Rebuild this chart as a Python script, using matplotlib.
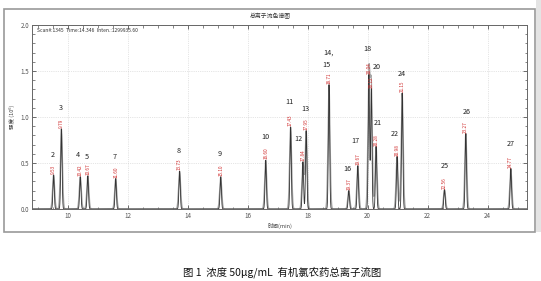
import numpy as np
import matplotlib
matplotlib.use("Agg")
import matplotlib.pyplot as plt
from matplotlib.patches import Rectangle
from matplotlib.ticker import MultipleLocator

plt.rcParams['font.family'] = ['Noto Sans CJK SC', 'DejaVu Sans']

# peak retention times (min) and heights (x10^6)
rts = [9.53, 9.79, 10.42, 10.67, 11.60, 13.73, 15.10, 16.60, 17.43, 17.84, 17.95,
       18.71, 19.37, 19.67, 20.04, 20.12, 20.28, 20.98, 21.15, 22.56, 23.27, 24.77]
heights = [0.37, 0.87, 0.35, 0.36, 0.33, 0.41, 0.35, 0.53, 0.89, 0.51, 0.85,
           1.35, 0.20, 0.47, 1.46, 1.31, 0.68, 0.57, 1.26, 0.21, 0.82, 0.44]
rt_labels = ["9.53", "9.79", "10.42", "10.67", "11.60", "13.73", "15.10", "16.60",
             "17.43", "17.84", "17.95", "18.71", "19.37", "19.67", "20.04", "20.12",
             "20.28", "20.98", "21.15", "22.56", "23.27", "24.77"]

# compound numbers and where they are written
num_labels = ["2", "3", "4", "5", "7", "8", "9", "10", "11", "12", "13", "14,", "15",
              "16", "17", "18", "20", "21", "22", "24", "25", "26", "27"]
num_x = [9.50, 9.77, 10.33, 10.63, 11.57, 13.69, 15.08, 16.60, 17.39, 17.69, 17.91,
         18.69, 18.63, 19.32, 19.60, 20.00, 20.30, 20.33, 20.91, 21.13, 22.58, 23.30, 24.77]
num_y = [0.59, 1.10, 0.59, 0.57, 0.57, 0.63, 0.60, 0.78, 1.16, 0.76, 1.09,
         1.70, 1.56, 0.43, 0.74, 1.74, 1.54, 0.93, 0.82, 1.47, 0.47, 1.05, 0.71]

fig = plt.figure(figsize=(5.41, 2.81), dpi=100)

# outer frame of the software window
fig.patches.append(Rectangle((4 / 541, 1 - 232 / 281), 531 / 541, 223 / 281,
                             transform=fig.transFigure, fill=False,
                             edgecolor='#999999', lw=1.2))
fig.patches.append(Rectangle((536 / 541, 1 - 232 / 281), 5 / 541, 232 / 281,
                             transform=fig.transFigure, facecolor='#e4e4e4',
                             edgecolor='none'))

ax = fig.add_axes([32 / 541, 1 - 209 / 281, 495 / 541, 184 / 281])

# chromatogram trace
t = np.linspace(8.8, 25.35, 6000)
outer = np.zeros_like(t)
inner = np.zeros_like(t)
for rt, h in zip(rts, heights):
    outer += h * np.exp(-0.5 * ((t - rt) / 0.035) ** 2)
    inner += h * np.exp(-0.5 * ((t - rt) / 0.022) ** 2)
ax.plot(t, outer, color='#a8a8a8', lw=0.9)
ax.plot(t, inner, color='#333333', lw=0.6)

# integration marks at the base
for rt in rts:
    ax.plot([rt - 0.07, rt + 0.07], [0.005, 0.005], color='#e08080', lw=0.8)

# retention time labels
for rt, h, s in zip(rts, heights, rt_labels):
    ax.text(rt, h + 0.01, s, rotation=90, ha='center', va='bottom',
            fontsize=3.4, color='#d03030')

# compound numbers
for s, x, y in zip(num_labels, num_x, num_y):
    ax.text(x, y, s, ha='center', va='center', fontsize=5.2, color='#222222')

ax.set_xlim(8.81, 25.31)
ax.set_ylim(0, 2.0)
ax.xaxis.set_major_locator(MultipleLocator(2))
ax.xaxis.set_minor_locator(MultipleLocator(0.5))
ax.yaxis.set_major_locator(MultipleLocator(0.5))
ax.yaxis.set_minor_locator(MultipleLocator(0.1))
ax.tick_params(which='both', direction='in', top=True, right=True,
               labelsize=4.5, colors='#555555', pad=2)
ax.tick_params(which='major', length=3, width=0.6)
ax.tick_params(which='minor', length=1.8, width=0.5)
ax.grid(True, which='major', linestyle=':', color='#cccccc', lw=0.5)
for sp in ax.spines.values():
    sp.set_color('#666666')
    sp.set_linewidth(0.7)

ax.set_xlabel('时间(min)', fontsize=4, color='#444444', labelpad=2)
ax.set_ylabel('强度 (10⁶)', fontsize=4, color='#444444', labelpad=4)

ax.text(0.01, 0.985, 'Scan#:1345  Time:14.346  Inten.:1299935.60',
        transform=ax.transAxes, ha='left', va='top', fontsize=3.6, color='#333333')
fig.text(270 / 541, 1 - 16 / 281, '总离子流色谱图', ha='center', va='center',
         fontsize=4.2, color='#333333')

fig.text(282 / 541, 1 - 272 / 281, '图 1  浓度 50μg/mL  有机氯农药总离子流图',
         ha='center', va='center', fontsize=7.5, color='#111111')

fig.savefig('out.png', dpi=100)
